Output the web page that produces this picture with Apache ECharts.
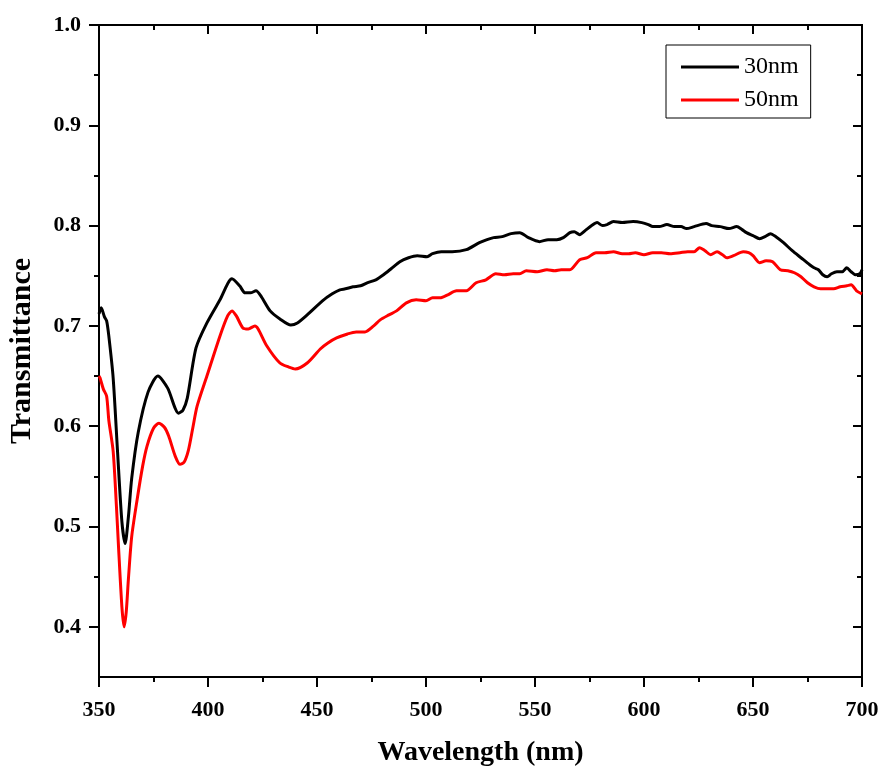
<!DOCTYPE html>
<html>
<head>
<meta charset="utf-8">
<script src="https://cdn.jsdelivr.net/npm/echarts@6/dist/echarts.min.js"></script>
<style>html,body{margin:0;padding:0;background:#fff;}#chart{width:880px;height:767px;}</style>
</head>
<body>
<div id="chart"></div>
<script>
// ---- data ----
const seriesNames = ['30nm', '50nm'];
const wl30 = [350,351,352.5,353.5,354.5,356.5,358.5,360.5,362,363.5,365,368,372.5,377,381.5,386.5,388.5,390.5,394.5,399.5,405.5,411,414.5,417,419.5,422,424.5,428.5,433,438,441,445.5,452.5,457,460.5,463,466.5,470,473,477,480.5,484,488,492,496,500.5,503,507,512,518.5,524.5,528,531,535,539,543,547,552,556,560,563,566,568,570.5,573,576,578.5,581,583,586,590,595,599,602,604,607,610.5,614,617,619.5,623,628.5,631,635,639,642.5,645,647,650,653,655.5,658,660.5,664,668,672,676,678,680,682,684,686,688.5,691,693,695,697,699,700];
const t30 = [0.712,0.718,0.709,0.705,0.690,0.648,0.575,0.505,0.483,0.510,0.548,0.594,0.634,0.650,0.638,0.613,0.616,0.628,0.678,0.703,0.726,0.747,0.740,0.733,0.733,0.735,0.729,0.715,0.707,0.701,0.703,0.711,0.725,0.732,0.736,0.737,0.739,0.740,0.743,0.746,0.751,0.757,0.764,0.768,0.770,0.769,0.772,0.774,0.774,0.776,0.783,0.786,0.788,0.789,0.792,0.793,0.788,0.784,0.786,0.786,0.788,0.793,0.794,0.791,0.795,0.800,0.803,0.800,0.801,0.804,0.803,0.804,0.803,0.801,0.799,0.799,0.801,0.799,0.799,0.797,0.799,0.802,0.800,0.799,0.797,0.799,0.796,0.793,0.790,0.787,0.789,0.792,0.789,0.783,0.775,0.768,0.761,0.758,0.756,0.751,0.749,0.752,0.754,0.754,0.758,0.754,0.751,0.752,0.756];
const wl50 = [350,350.5,352,353.5,354.5,356.5,358,359,360.5,361.5,362.5,363.5,365,367.5,370,372,375,377.5,380,382,385,387.2,389,391,393,395,399.5,405.5,409,411,413,416,418.5,421.5,423,427,433,437,440,445.5,451.5,455,459,464,468,472,476,479,483,486.5,491,495.5,500,503,506.5,510,514,518.5,523,527.5,532,536,540,543,546,551,555.5,559,562,566,570.5,574,578,582,586,590,593,596,600,604,608,612,616.5,620,623,625.5,628,630.5,633.5,636,638,641,645.5,648,650,653,656,659,662.5,666,669,672,675,678,681,684,687,690,693,695,697.5,700];
const t50 = [0.650,0.648,0.637,0.630,0.606,0.575,0.520,0.478,0.420,0.400,0.415,0.448,0.490,0.527,0.560,0.580,0.598,0.603,0.599,0.590,0.570,0.562,0.564,0.576,0.598,0.620,0.650,0.690,0.710,0.715,0.710,0.698,0.697,0.700,0.697,0.680,0.663,0.659,0.657,0.663,0.677,0.683,0.688,0.692,0.694,0.694,0.700,0.706,0.711,0.715,0.723,0.726,0.725,0.728,0.728,0.731,0.735,0.735,0.743,0.746,0.752,0.751,0.752,0.752,0.755,0.754,0.756,0.755,0.756,0.756,0.766,0.768,0.773,0.773,0.774,0.772,0.772,0.773,0.771,0.773,0.773,0.772,0.773,0.774,0.774,0.778,0.775,0.771,0.774,0.771,0.768,0.770,0.774,0.773,0.770,0.763,0.765,0.764,0.756,0.755,0.753,0.749,0.743,0.739,0.737,0.737,0.737,0.739,0.740,0.741,0.735,0.732];
const yMajorTicks = [0.4,0.5,0.6,0.7,0.8,0.9,1.0];
const yMinorTicks = [0.45,0.55,0.65,0.75,0.85,0.95];
const xMin = 350, xMax = 700, xStep = 50;
const yMin = 0.35, yMax = 1.0;
const xTitle = 'Wavelength (nm)';
const yTitle = 'Transmittance';

const FONT = "'Liberation Serif','Times New Roman',serif";
const lineStyleAxis = {color:'#000', width:2};

function zip(a,b){return a.map((v,i)=>[v,b[i]]);}

const chart = echarts.init(document.getElementById('chart'), null, {renderer:'canvas'});

function yAxisCfg(pos, ticks, len, inside, labels, extra){
  return Object.assign({
    type:'value', position:pos, min:yMin, max:yMax, interval:0.05,
    axisLine:{show:true, onZero:false, lineStyle:lineStyleAxis},
    axisTick:{show:true, inside:inside, length:len, customValues:ticks, lineStyle:{color:'#000', width:2}},
    axisLabel:{show:labels, customValues: labels ? ticks : undefined, margin:18,
      formatter:v=>v.toFixed(1), color:'#000', fontFamily:FONT, fontWeight:'bold', fontSize:22},
    splitLine:{show:false}
  }, extra||{});
}

const option = {
  backgroundColor:'#fff',
  animation:false,
  grid:{left:99, right:18, top:25, bottom:90, containLabel:false, outerBoundsMode:'none'},
  legend:{
    data:seriesNames, orient:'vertical', left:666, top:45,
    padding:[9,12,5,15], itemGap:7, itemWidth:58, itemHeight:3, icon:'rect',
    borderColor:'#000', borderWidth:1,
    textStyle:{fontFamily:FONT, fontSize:24, color:'#000', lineHeight:26}
  },
  xAxis:[
    {type:'value', position:'bottom', min:xMin, max:xMax, interval:xStep,
     name:xTitle, nameLocation:'middle', nameGap:62,
     nameTextStyle:{fontFamily:FONT, fontWeight:'bold', fontSize:28, color:'#000'},
     axisLine:{show:true, onZero:false, lineStyle:lineStyleAxis},
     axisTick:{show:true, length:10, lineStyle:{color:'#000', width:2}},
     minorTick:{show:true, splitNumber:2, length:5, lineStyle:{color:'#000', width:2}},
     axisLabel:{margin:22, color:'#000', fontFamily:FONT, fontWeight:'bold', fontSize:22},
     splitLine:{show:false}},
    {type:'value', position:'top', min:xMin, max:xMax, interval:xStep,
     axisLine:{show:true, onZero:false, lineStyle:lineStyleAxis},
     axisTick:{show:true, inside:true, length:9, lineStyle:{color:'#000', width:2}},
     minorTick:{show:true, splitNumber:2, length:5, lineStyle:{color:'#000', width:2}},
     axisLabel:{show:false}, splitLine:{show:false}}
  ],
  yAxis:[
    yAxisCfg('left', yMajorTicks, 10, false, true, {
      name:yTitle, nameLocation:'middle', nameGap:62, nameRotate:90,
      nameTextStyle:{fontFamily:FONT, fontWeight:'bold', fontSize:30, color:'#000'}}),
    yAxisCfg('left', yMinorTicks, 5, false, false),
    yAxisCfg('right', yMajorTicks, 9, true, false),
    yAxisCfg('right', yMinorTicks, 5, true, false)
  ],
  series:[
    {name:seriesNames[0], type:'line', xAxisIndex:0, yAxisIndex:0, data:zip(wl30,t30),
     symbol:'none', smooth:0.25, clip:true, lineStyle:{color:'#000', width:3}, itemStyle:{color:'#000'}},
    {name:seriesNames[1], type:'line', xAxisIndex:0, yAxisIndex:0, data:zip(wl50,t50),
     symbol:'none', smooth:0.25, clip:true, lineStyle:{color:'#ff0000', width:3}, itemStyle:{color:'#ff0000'}}
  ]
};
chart.setOption(option);
</script>
</body>
</html>
